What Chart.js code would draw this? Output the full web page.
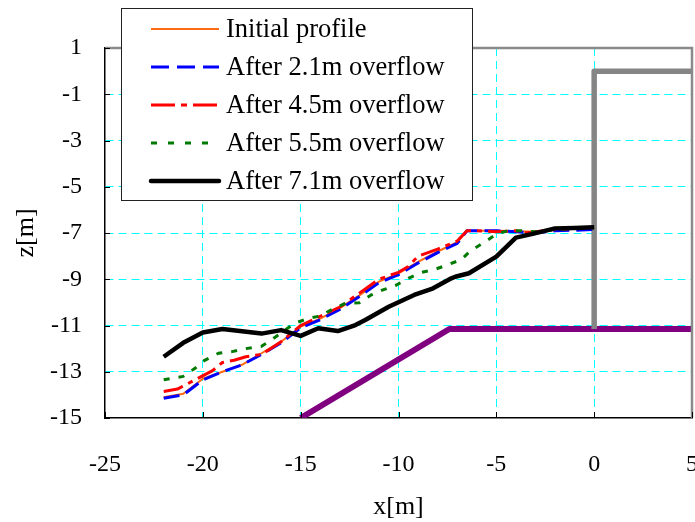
<!DOCTYPE html>
<html>
<head>
<meta charset="utf-8">
<script src="https://cdn.jsdelivr.net/npm/chart.js@4/dist/chart.umd.min.js"></script>
<style>
html,body{margin:0;padding:0;background:#fff;}
#wrap{width:695px;height:522px;}
</style>
</head>
<body>
<div id="wrap"><canvas id="c" width="695" height="522"></canvas></div>
<script>
// ---- Data ----
const seriesLabels = ["Initial profile","After 2.1m overflow","After 4.5m overflow","After 5.5m overflow","After 7.1m overflow"];

const xInit = [-22,-21,-20,-19,-18,-17,-16,-15,-14,-13,-12,-11,-10,-9,-8,-7,-6.5,-6,-5,-4,-3,-2,-1,0];
const zInit = [-14.1,-13.95,-13.3,-13.0,-12.7,-12.2,-11.7,-11.05,-10.7,-10.25,-9.7,-9.1,-8.75,-8.25,-7.8,-7.4,-6.9,-6.9,-6.9,-6.92,-6.95,-6.85,-6.8,-6.75];

const x21 = [-22,-21,-20,-19,-18,-17,-16,-15,-14,-13,-12,-11,-10,-9,-8,-7,-6.5,-6,-5,-4,-3,-2,-1,0];
const z21 = [-14.15,-14.0,-13.35,-13.0,-12.7,-12.25,-11.75,-11.1,-10.75,-10.3,-9.75,-9.15,-8.8,-8.3,-7.85,-7.45,-6.9,-6.9,-6.9,-6.95,-7.0,-6.9,-6.88,-6.85];

const x45 = [-22,-21.3,-20.4,-19.5,-19,-18.4,-17.8,-17,-16,-15,-14,-13,-12,-11,-10,-9.5,-9,-8,-7,-6.5,-6,-5,-4,-3.5,-3,-2,-1,0];
const z45 = [-13.85,-13.75,-13.35,-12.95,-12.6,-12.5,-12.35,-12.25,-11.7,-11.0,-10.6,-10.2,-9.6,-9.0,-8.7,-8.45,-8.0,-7.7,-7.35,-6.9,-6.9,-6.95,-6.9,-7.0,-6.95,-6.85,-6.8,-6.75];

const x55 = [-22,-21,-20.4,-20,-19.2,-18.5,-17.8,-17,-16.5,-15.3,-14.6,-14,-13.3,-12.7,-12,-11.4,-10.8,-10.1,-9.5,-8.8,-8.1,-7.5,-6.8,-6.3,-5.7,-5,-4.4,-3.7,-3,-2,-1,0];
const z55 = [-13.35,-13.2,-12.85,-12.55,-12.2,-12.13,-12.0,-11.9,-11.63,-10.9,-10.69,-10.59,-10.26,-10.04,-10.02,-9.68,-9.46,-9.25,-8.96,-8.7,-8.56,-8.38,-8.15,-7.76,-7.45,-7.05,-6.9,-6.9,-6.95,-6.85,-6.8,-6.75];

const x71 = [-22,-21,-20,-19,-18,-17,-16,-15,-14.1,-13.1,-12.2,-11.7,-10.5,-9.2,-8.3,-7.3,-7.1,-6.4,-5,-4,-3.2,-2,-1,0];
const z71 = [-12.35,-11.75,-11.3,-11.15,-11.25,-11.35,-11.2,-11.45,-11.12,-11.24,-10.98,-10.76,-10.19,-9.68,-9.42,-8.96,-8.89,-8.74,-8.02,-7.2,-7.05,-6.8,-6.78,-6.75];

// structure outlines
const xWall = [0,0,5];
const zWall = [-11.15,0,0];
const xBase = [-15,-7.4,5];
const zBase = [-15,-11.15,-11.15];

// axis ticks
const xTicks = [-25,-20,-15,-10,-5,0,5];
const zTicks = [-15,-13,-11,-9,-7,-5,-3,-1,1];

const pts = (xs, zs) => xs.map((x, i) => ({x: x, y: zs[i]}));
const FONT = "'Liberation Serif', 'Times New Roman', serif";

const ds = [
  {label: seriesLabels[0], data: pts(xInit, zInit), borderColor: '#FF6A13', borderWidth: 2, borderDash: [], order: 5},
  {label: seriesLabels[1], data: pts(x21, z21), borderColor: '#0000FF', borderWidth: 3, borderDash: [16, 7], order: 4},
  {label: seriesLabels[2], data: pts(x45, z45), borderColor: '#FF0000', borderWidth: 3, borderDash: [20, 6, 5, 6], order: 3},
  {label: seriesLabels[3], data: pts(x55, z55), borderColor: '#007A00', borderWidth: 3, borderDash: [6, 9], order: 2},
  {label: seriesLabels[4], data: pts(x71, z71), borderColor: '#000000', borderWidth: 4.5, borderDash: [], order: 1},
  {label: 'wall', data: pts(xWall, zWall), borderColor: '#858585', borderWidth: 5.5, borderDash: [], order: 6},
  {label: 'base', data: pts(xBase, zBase), borderColor: '#800080', borderWidth: 6, borderDash: [], order: 7}
].map(d => Object.assign(d, {showLine: true, pointRadius: 0, pointHoverRadius: 0, fill: false, tension: 0, borderJoinStyle: 'round'}));

const legendDash = [[], [18, 8], [24, 6, 6, 6], [6, 11], []];

const framePlugin = {
  id: 'frame',
  afterDatasetsDraw(chart) {
    const {ctx, chartArea: a, scales} = chart;
    ctx.save();
    ctx.strokeStyle = '#8a8a8a';
    ctx.lineWidth = 2.5;
    ctx.beginPath();
    ctx.moveTo(a.left, a.top);
    ctx.lineTo(a.right, a.top);
    ctx.lineTo(a.right, a.bottom);
    ctx.stroke();
    ctx.strokeStyle = '#000';
    ctx.lineWidth = 1;
    ctx.beginPath();
    scales.y.ticks.forEach(t => {
      const y = Math.round(scales.y.getPixelForValue(t.value)) + 0.5;
      ctx.moveTo(a.left, y); ctx.lineTo(a.left + 5, y);
    });
    scales.x.ticks.forEach(t => {
      const x = Math.round(scales.x.getPixelForValue(t.value)) + 0.5;
      ctx.moveTo(x, a.bottom); ctx.lineTo(x, a.bottom - 6);
    });
    ctx.stroke();
    ctx.restore();
  },
  afterDraw(chart) {
    const {ctx} = chart;
    ctx.save();
    const bx = 121.5, by = 8.5, bw = 351, bh = 192;
    ctx.fillStyle = '#fff';
    ctx.fillRect(bx, by, bw, bh);
    ctx.strokeStyle = '#222';
    ctx.lineWidth = 1;
    ctx.strokeRect(bx, by, bw, bh);
    ctx.font = '26.5px ' + FONT;
    ctx.textBaseline = 'middle';
    ctx.textAlign = 'left';
    for (let i = 0; i < 5; i++) {
      const d = chart.data.datasets[i];
      const y = 29 + i * 38;
      ctx.strokeStyle = d.borderColor;
      ctx.lineWidth = d.borderWidth;
      ctx.setLineDash(legendDash[i]);
      ctx.lineCap = (i === 4) ? 'round' : 'butt';
      ctx.beginPath();
      ctx.moveTo(151, y); ctx.lineTo(219, y);
      ctx.stroke();
      ctx.setLineDash([]);
      ctx.fillStyle = '#000';
      ctx.fillText(d.label, 226, y + 1);
    }
    ctx.restore();
  }
};

const gridColor = (edgeVals) => (c) => (c.tick && edgeVals.includes(c.tick.value)) ? 'rgba(0,0,0,0)' : '#00FFFF';

new Chart(document.getElementById('c'), {
  type: 'scatter',
  data: {datasets: ds},
  options: {
    responsive: false,
    devicePixelRatio: 1,
    animation: false,
    layout: {padding: {top: 48, right: 3, left: 0, bottom: 0}},
    plugins: {legend: {display: false}, tooltip: {enabled: false}},
    scales: {
      x: {
        type: 'linear', min: xTicks[0], max: xTicks[xTicks.length - 1],
        afterBuildTicks: s => { s.ticks = xTicks.map(v => ({value: v})); },
        afterFit: s => { s.height = 104; s.paddingRight = 0; s.paddingLeft = 0; },
        ticks: {color: '#000', font: {family: FONT, size: 24}, padding: 32, maxRotation: 0, callback: v => String(v)},
        grid: {color: gridColor([xTicks[0], xTicks[xTicks.length - 1]]), lineWidth: 1, drawTicks: false},
        border: {display: true, color: '#000', width: 1.5, dash: [8, 5]},
        title: {display: true, text: 'x[m]', color: '#000', font: {family: FONT, size: 26}, padding: {top: 0, bottom: -1}}
      },
      y: {
        type: 'linear', min: zTicks[0], max: zTicks[zTicks.length - 1],
        afterBuildTicks: s => { s.ticks = zTicks.map(v => ({value: v})); },
        afterFit: s => { s.width = 105; s.paddingTop = 0; s.paddingBottom = 0; },
        ticks: {color: '#000', font: {family: FONT, size: 24}, padding: 23, callback: v => String(v)},
        grid: {color: gridColor([zTicks[0], zTicks[zTicks.length - 1]]), lineWidth: 1, drawTicks: false},
        border: {display: true, color: '#000', width: 1.5, dash: [8, 5]},
        title: {display: true, text: 'z[m]', color: '#000', font: {family: FONT, size: 26}, padding: {top: 11, bottom: 0}}
      }
    }
  },
  plugins: [framePlugin]
});
</script>
</body>
</html>
